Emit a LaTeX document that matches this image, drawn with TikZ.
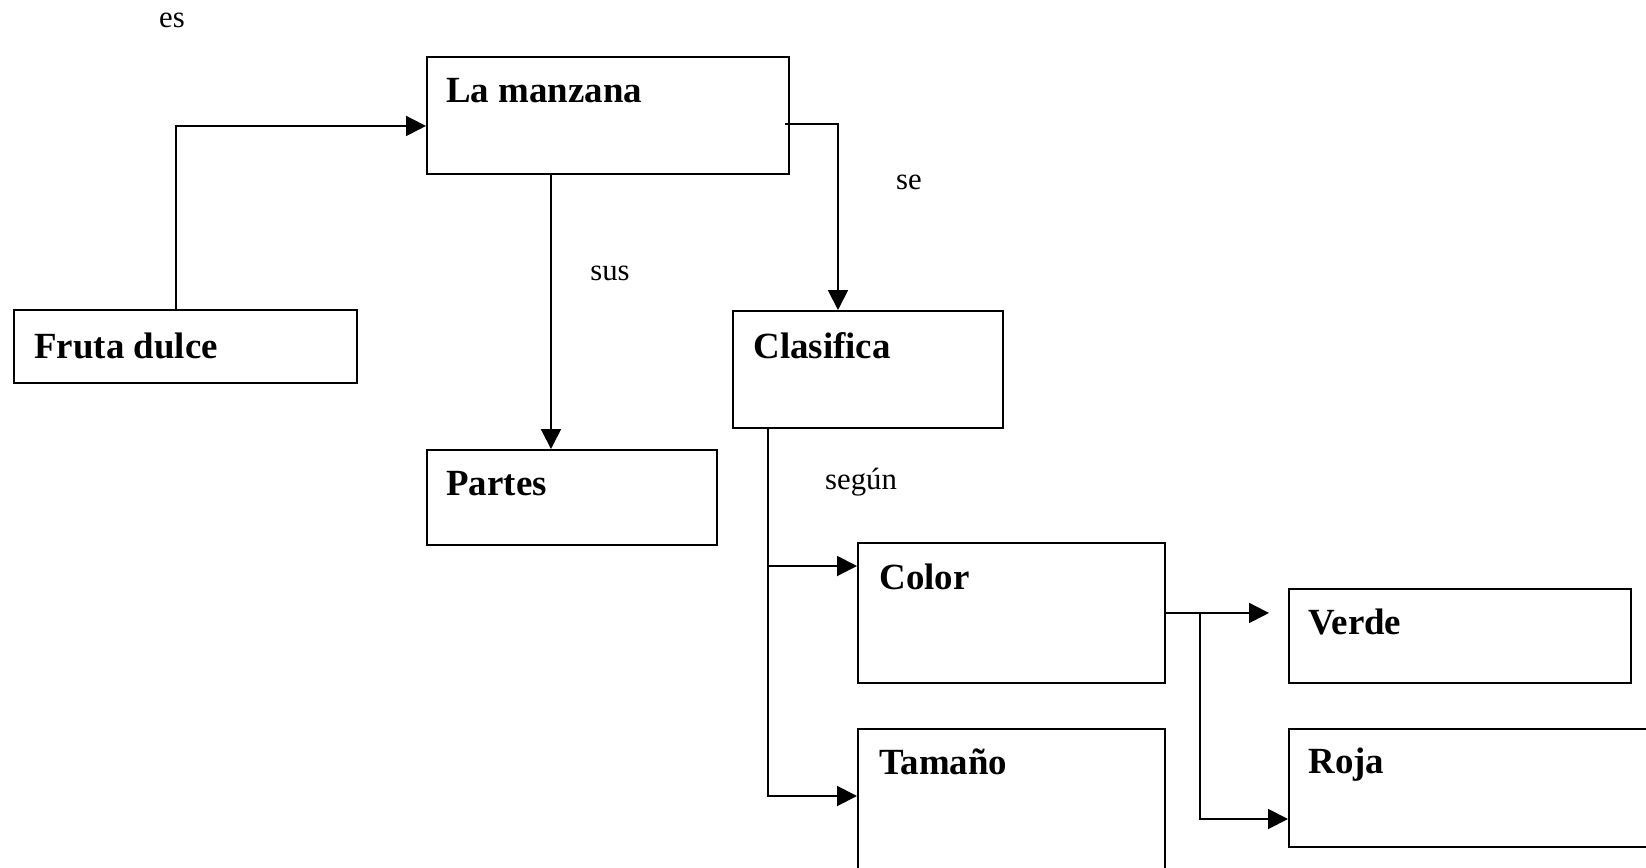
\documentclass[tikz,border=0pt]{standalone}
\usepackage{fontspec}
\setmainfont{Liberation Serif}
\usetikzlibrary{arrows.meta}
\begin{document}
\begin{tikzpicture}[x=0.02cm,y=-0.02cm,
  box/.style={draw,line width=1.1pt,rectangle,inner sep=0pt,anchor=north west},
  boxtext/.style={inner sep=0pt,anchor=base west,font=\fontsize{21}{25}\selectfont\bfseries},
  lbl/.style={inner sep=0pt,anchor=base,font=\fontsize{17.5}{21}\selectfont},
  conn/.style={line width=1.1pt},
  arr/.style={conn,-{Triangle[length=0.4cm,width=0.4cm]}}]
\useasboundingbox (0,0) rectangle (1646,867);
\clip (0,0) rectangle (1646,867);
% boxes
\node[box,minimum width=6.86cm,minimum height=1.46cm] (fruta) at (13,309) {};
\node[box,minimum width=7.24cm,minimum height=2.34cm] (manzana) at (426,56) {};
\node[box,minimum width=5.8cm,minimum height=1.9cm] (partes) at (426,449) {};
\node[box,minimum width=5.4cm,minimum height=2.34cm] (clasifica) at (732,310) {};
\node[box,minimum width=6.14cm,minimum height=2.8cm] (color) at (857,542) {};
\node[box,minimum width=6.14cm,minimum height=4cm] (tamano) at (857,728) {};
\node[box,minimum width=6.84cm,minimum height=1.88cm] (verde) at (1288,588) {};
\node[box,minimum width=9cm,minimum height=2.36cm] (roja) at (1288,728) {};
% box texts
\node[boxtext] (tfruta) at (34,358) {Fruta dulce};
\node[boxtext] (tmanzana) at (446,102) {La manzana};
\node[boxtext] (tpartes) at (446,495) {Partes};
\node[boxtext] (tclasifica) at (753,358) {Clasifica};
\node[boxtext] (tcolor) at (879,589) {Color};
\node[boxtext] (ttamano) at (879,774) {Tamaño};
\node[boxtext] (tverde) at (1308,634) {Verde};
\node[boxtext] (troja) at (1308,773) {Roja};
% labels
\node[lbl] (les) at (172,27) {es};
\node[lbl] (lsus) at (610,280) {sus};
\node[lbl] (lse) at (909,189) {se};
\node[lbl] (lsegun) at (861,489) {según};
% connectors
\draw[arr] ([xshift=3.26cm]fruta.north west) |- ([yshift=-0.21cm]manzana.west);
\draw[arr] ([xshift=-0.1cm,yshift=-0.18cm]manzana.east) -| ([xshift=2.12cm]clasifica.north west);
\draw[arr] ([xshift=2.5cm]manzana.south west) -- ([xshift=2.5cm]partes.north west);
\coordinate (trunk) at ([xshift=0.72cm,yshift=0.04cm]clasifica.south west);
\coordinate (colorin) at ([yshift=-0.48cm]color.north west);
\draw[arr] (trunk) |- ([yshift=-1.36cm]tamano.north west);
\draw[arr] (trunk |- colorin) -- (colorin);
\coordinate (verdein) at ([xshift=-0.38cm]verde.west);
\draw[arr] (color.east) -- (verdein |- color.east);
\draw[arr] ([xshift=0.68cm]color.east) |- ([yshift=-1.82cm]roja.north west);
\end{tikzpicture}
\end{document}
